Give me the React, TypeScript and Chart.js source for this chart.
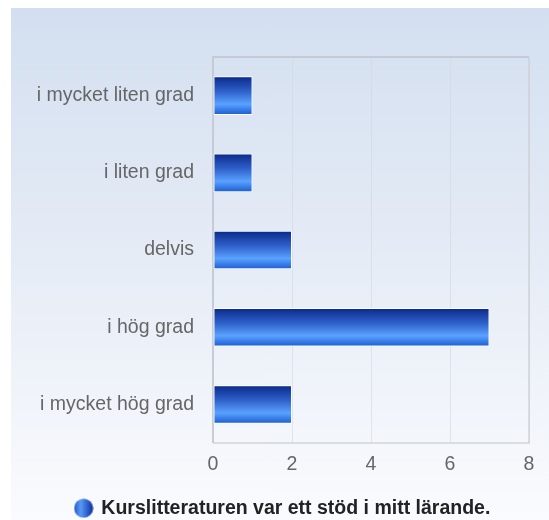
import React, { useEffect, useRef } from "react";
import { Chart, registerables } from "chart.js";

Chart.register(...registerables);

const categories = [
  "i mycket liten grad",
  "i liten grad",
  "delvis",
  "i hög grad",
  "i mycket hög grad",
];
const values = [1, 1, 2, 7, 2];
const seriesLabel = "Kurslitteraturen var ett stöd i mitt lärande.";
const xTicks = [0, 2, 4, 6, 8];

const FONT = "'Liberation Sans', Arial, Helvetica, sans-serif";

function makeLegendIcon(): HTMLCanvasElement {
  const c = document.createElement("canvas");
  c.width = 20;
  c.height = 20;
  const g = c.getContext("2d")!;
  const grad = g.createLinearGradient(0, 0, 20, 0);
  grad.addColorStop(0, "#1c55c6");
  grad.addColorStop(0.35, "#5a9af2");
  grad.addColorStop(0.7, "#2a5fcc");
  grad.addColorStop(1, "#0b2a8a");
  g.fillStyle = grad;
  g.beginPath();
  g.arc(10, 10, 9.5, 0, Math.PI * 2);
  g.fill();
  return c;
}

const framePlugin = {
  id: "frame",
  afterLayout(chart: any) {
    const l = chart.legend;
    if (l) {
      l.left += 13;
      l.right += 13;
    }
  },
  beforeDatasetsDraw(chart: any) {
    const { ctx, chartArea } = chart;
    if (!chartArea) return;
    ctx.save();
    ctx.strokeStyle = "rgba(195,200,210,0.9)";
    ctx.lineWidth = 2;
    ctx.beginPath();
    ctx.moveTo(chartArea.left, chartArea.bottom);
    ctx.lineTo(chartArea.left, chartArea.top);
    ctx.lineTo(chartArea.right, chartArea.top);
    ctx.stroke();
    ctx.strokeStyle = "rgba(205,208,214,0.9)";
    ctx.lineWidth = 1.5;
    ctx.beginPath();
    ctx.moveTo(chartArea.right, chartArea.top);
    ctx.lineTo(chartArea.right, chartArea.bottom);
    ctx.lineTo(chartArea.left, chartArea.bottom);
    ctx.stroke();
    ctx.restore();
  },
};

export default function App() {
  const ref = useRef<HTMLCanvasElement | null>(null);

  useEffect(() => {
    if (!ref.current) return;
    const icon = makeLegendIcon();
    const chart = new Chart(ref.current, {
      type: "bar",
      data: {
        labels: categories,
        datasets: [
          {
            label: seriesLabel,
            data: values,
            borderColor: "#ffffff",
            borderWidth: 1,
            borderSkipped: false,
            categoryPercentage: 1,
            barPercentage: 0.5,
            backgroundColor: (ctx: any) => {
              const chart = ctx.chart;
              const ca = chart.chartArea;
              const ys = chart.scales.y;
              if (!ca || !ys || ctx.type !== "data") return "#2f6fe0";
              const c = ys.getPixelForValue(ctx.dataIndex);
              const h = (ca.height / categories.length) * 0.5;
              const g = chart.ctx.createLinearGradient(0, c - h / 2, 0, c + h / 2);
              g.addColorStop(0, "#0a2888");
              g.addColorStop(0.4, "#2f62cc");
              g.addColorStop(0.72, "#5aa2ff");
              g.addColorStop(0.85, "#3b80ea");
              g.addColorStop(1, "#1c5ccc");
              return g;
            },
          },
        ],
      },
      options: {
        indexAxis: "y",
        animation: false,
        responsive: true,
        maintainAspectRatio: false,
        layout: { padding: { top: 49, right: 20, left: 0, bottom: -8 } },
        scales: {
          x: {
            min: 0,
            max: 8,
            afterBuildTicks: (scale: any) => {
              scale.ticks = xTicks.map((v) => ({ value: v }));
            },
            ticks: {
              font: { family: FONT, size: 19.5 },
              color: "#666666",
              padding: 10,
            },
            grid: { color: "rgba(210,215,225,0.6)", drawTicks: false },
            border: { display: false },
          },
          y: {
            ticks: {
              font: { family: FONT, size: 19.5 },
              color: "#666666",
              padding: 19,
            },
            grid: { display: false, drawTicks: false },
            border: { display: false },
            afterFit: (scale: any) => {
              scale.width = 202;
            },
          },
        },
        plugins: {
          tooltip: { enabled: false },
          legend: {
            position: "bottom",
            labels: {
              usePointStyle: true,
              pointStyleWidth: 16,
              padding: 12,
              color: "#222222",
              font: { family: FONT, size: 19.5, weight: "bold" },
              generateLabels: () => [
                {
                  text: seriesLabel,
                  pointStyle: icon as any,
                  fillStyle: "#2f6fe0",
                  strokeStyle: "transparent",
                  lineWidth: 0,
                  hidden: false,
                  datasetIndex: 0,
                  fontColor: "#222222",
                } as any,
              ],
            },
          },
        },
      },
      plugins: [framePlugin],
    } as any);
    return () => chart.destroy();
  }, []);

  return (
    <div
      style={{
        position: "fixed",
        left: 11,
        top: 8,
        right: 0,
        bottom: 0,
        background: "linear-gradient(to bottom, #d3dff0 0%, #e6ecf6 50%, #fafbfe 100%)",
      }}
    >
      <canvas ref={ref} />
    </div>
  );
}
